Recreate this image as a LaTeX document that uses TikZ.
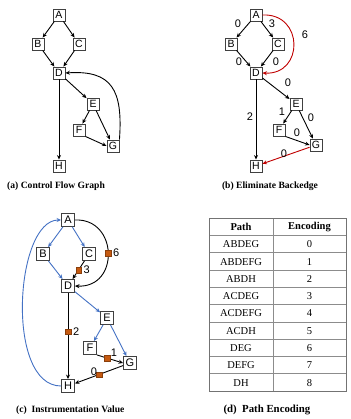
\documentclass[tikz,border=0pt]{standalone}
\usepackage{fontspec}
\setmainfont{Liberation Serif}
\newfontfamily\lab{Liberation Sans}
\usetikzlibrary{arrows.meta}
\definecolor{flowblue}{HTML}{4472C4}
\definecolor{backred}{HTML}{C00000}
\definecolor{probe}{HTML}{C55A11}
\tikzset{
  bb/.style={draw=black!75, line width=0.9pt, fill=white, minimum size=12pt, inner sep=0pt,
             font=\lab\fontsize{10.5}{12}\selectfont},
  bbc/.style={bb, minimum size=13pt, font=\lab\fontsize{11}{13}\selectfont},
  edge/.style={line width=0.9pt, -{Stealth[length=4.5pt,width=4pt]}},
  bedge/.style={edge, draw=flowblue, -{Stealth[length=4.5pt,width=4pt,fill=flowblue]}},
  redge/.style={edge, draw=backred, -{Stealth[length=4.5pt,width=4pt,fill=backred]}},
  num/.style={font=\lab\fontsize{11}{13}\selectfont, inner sep=0pt},
  sq/.style={draw=probe!70!black, fill=probe, minimum size=5.5pt, inner sep=0pt, line width=0.4pt},
  captext/.style={font=\bfseries\fontsize{9.6}{11}\selectfont, inner sep=0pt},
  cell/.style={font=\fontsize{10.5}{12}\selectfont, inner sep=0pt},
  hcell/.style={cell, font=\bfseries\fontsize{10.5}{12}\selectfont},
  gridline/.style={draw=black!45, line width=0.6pt}
}
\begin{document}
\begin{tikzpicture}[x=1pt, y=-1pt]
\useasboundingbox (0,0) rectangle (350,419);

% ---------- (a) control flow graph ----------
\begin{scope}
\node[bb] (aA) at (59,15) {A};
\node[bb] (aB) at (38,44) {B};
\node[bb] (aC) at (79,44) {C};
\node[bb] (aD) at (59,73) {D};
\node[bb] (aE) at (93,104) {E};
\node[bb] (aF) at (79,130) {F};
\node[bb] (aG) at (113,146) {G};
\node[bb] (aH) at (59,166) {H};
\draw[edge] (aA) -- (aB);
\draw[edge] (aA) -- (aC);
\draw[edge] (aB) -- (aD);
\draw[edge] (aC) -- (aD);
\draw[edge] (aD) -- (aE);
\draw[edge] (aE) -- (aF);
\draw[edge] (aE) -- (aG);
\draw[edge] (aF.south east) -- (aG.west);
\draw[edge] (aD) -- (aH);
\draw[edge] (aG.north east) .. controls (123,90) and (112,70) .. (aD.east);
\node[captext, anchor=west] (capa) at (7,186) {(a) Control Flow Graph};
\end{scope}

% ---------- (b) back edge removed ----------
\begin{scope}
\node[bb] (bA) at (256,15) {A};
\node[bb] (bB) at (231,44) {B};
\node[bb] (bC) at (278,44) {C};
\node[bb] (bD) at (256,73) {D};
\node[bb] (bE) at (296,104) {E};
\node[bb] (bF) at (279,130) {F};
\node[bb] (bG) at (316,145) {G};
\node[bb] (bH) at (256,166) {H};
\draw[edge] (bA) -- (bB);
\draw[edge] (bA) -- (bC);
\draw[edge] (bB) -- (bD);
\draw[edge] (bC) -- (bD);
\draw[edge] (bD) -- (bE);
\draw[edge] (bE) -- (bF);
\draw[edge] (bE) -- (bG);
\draw[edge] (bF.south east) -- (bG.west);
\draw[edge] (bD) -- (bH);
\draw[redge] (bA.east) .. controls (304,13) and (304,75) .. (bD.east);
\draw[redge] (bG) -- (bH);
\node[num] (l1) at (238,24) {0};
\node[num] (l2) at (272,24) {3};
\node[num] (l3) at (305,35) {6};
\node[num] (l4) at (239,62) {0};
\node[num] (l5) at (276,62) {0};
\node[num] (l6) at (288,83) {0};
\node[num] (l7) at (250,117) {2};
\node[num] (l8) at (282,112) {1};
\node[num] (l9) at (311,118) {0};
\node[num] (l10) at (297,133) {0};
\node[num] (l11) at (284,154) {0};
\node[captext] (capb) at (270,186) {(b) Eliminate Backedge};
\end{scope}

% ---------- (c) instrumentation ----------
\begin{scope}
\node[bbc] (cA) at (68,220) {A};
\node[bbc] (cB) at (43,254) {B};
\node[bbc] (cC) at (89,254) {C};
\node[bbc] (cD) at (68,286) {D};
\node[bbc] (cE) at (107,318) {E};
\node[bbc] (cF) at (90,348) {F};
\node[bbc] (cG) at (130,363) {G};
\node[bbc] (cH) at (68,386) {H};
\draw[bedge] (cA) -- (cB);
\draw[bedge] (cA) -- (cC);
\draw[bedge] (cB) -- (cD);
\draw[bedge] (cD) -- (cE);
\draw[bedge] (cE) -- (cF);
\draw[bedge] (cE) -- (cG);
\draw[bedge] (cH.west) .. controls (5,386) and (15,220) .. (cA.west);
\draw[edge] (cA.east) .. controls (118,218) and (120,288) .. node[sq] (s6) {} (cD.east);
\draw[edge] (cC) -- node[sq] (s3) {} (cD);
\draw[edge] (cD) -- node[sq, pos=0.45] (s2) {} (cH);
\draw[edge] (cF.south east) -- node[sq, pos=0.4] (s1) {} (cG.west);
\draw[edge] (cG) -- node[sq] (s0) {} (cH);
\node[num, anchor=west] (v6) at ([xshift=2pt]s6.east) {6};
\node[num, anchor=west] (v3) at ([xshift=2pt]s3.east) {3};
\node[num, anchor=west] (v2) at ([xshift=2pt]s2.east) {2};
\node[num] (v1) at (114,353) {1};
\node[num] (v0) at (94,372) {0};
\node[captext, anchor=west] (capc) at (16,410) {(c)\ \ Instrumentation Value};
\end{scope}

% ---------- (d) path encoding table ----------
\begin{scope}
\coordinate (tl) at (209,218);
\coordinate (br) at (346,391);
\foreach \i in {1,...,9} {
  \draw[gridline] (209,{218+\i*17.3}) -- (346,{218+\i*17.3});
}
\draw[gridline] (273,218) -- (273,391);
\draw[gridline, draw=black!55] (tl) rectangle (br);
\node[hcell] (hp) at (241,227) {Path};
\node[hcell] (he) at (309.5,227) {Encoding};
\foreach \p [count=\k from 0] in {ABDEG,ABDEFG,ABDH,ACDEG,ACDEFG,ACDH,DEG,DEFG,DH} {
  \node[cell] (p\k) at (241,{227+(\k+1)*17.3}) {\p};
  \node[cell] (e\k) at (309.5,{227+(\k+1)*17.3}) {\k};
}
\node[captext, font=\bfseries\fontsize{10.8}{12}\selectfont] (capd) at (267,410) {(d)\ \ Path Encoding};
\end{scope}
\end{tikzpicture}
\end{document}
